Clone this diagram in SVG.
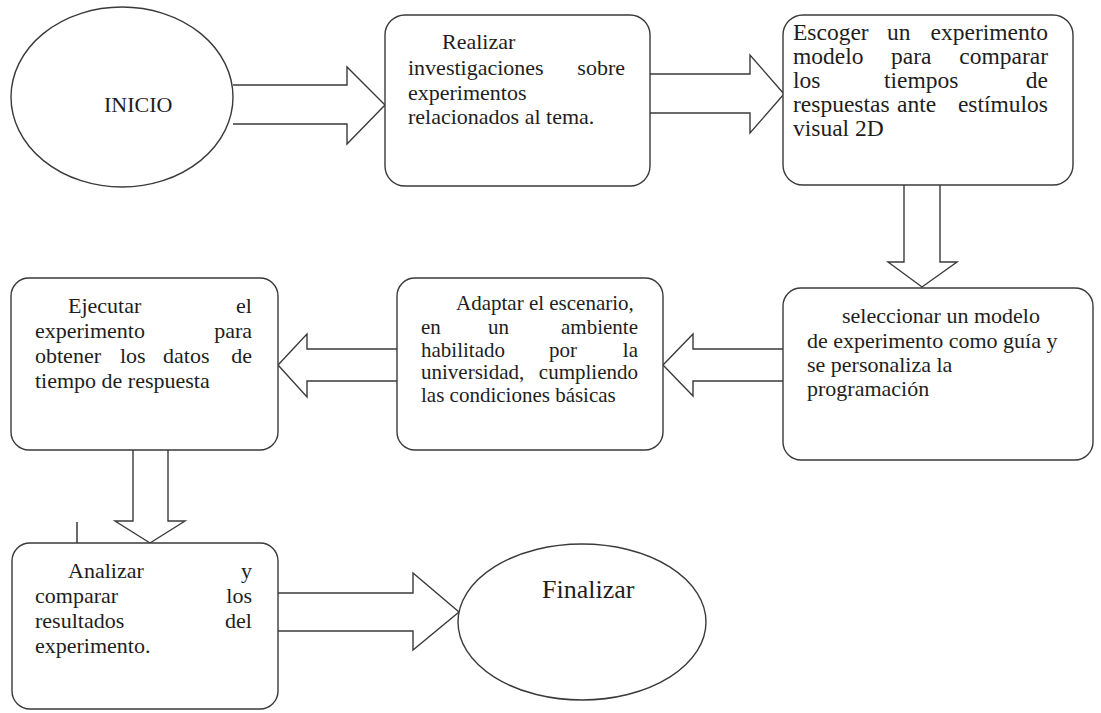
<svg xmlns="http://www.w3.org/2000/svg" width="1101" height="713" viewBox="0 0 1101 713">
  <style>
    .shape { fill: #ffffff; stroke: #3a3a3a; stroke-width: 1.4; }
    .arrow { fill: #ffffff; stroke: #3a3a3a; stroke-width: 1.4; stroke-linejoin: miter; }
    .t { fill: #1e1e1e; font-family: "Liberation Serif", "Times New Roman", Times, serif; }
  </style>

  <rect width="1101" height="713" fill="#ffffff"/>

  <!-- block arrows between steps -->
  <g id="connectors">
    <path class="arrow" d="M233,85 H347 V67 L385,105 L347,144 V124 H233"/>
    <path class="arrow" d="M650,74 H750 V55 L784,94 L750,133 V113 H650"/>
    <path class="arrow" d="M904,185 V262 H888 L922,287 L957,262 H940 V185"/>
    <path class="arrow" d="M783,349 H693 V334 L663,365 L693,396 V381 H783"/>
    <path class="arrow" d="M397,349 H307 V334 L278,365 L307,397 V381 H397"/>
    <path class="arrow" d="M133,450 V521 H115 L150,543 L185,521 H168 V450"/>
    <path class="arrow" d="M278,593 H413 V573 L459,612 L413,650 V631 H278"/>
    <line x1="77" y1="522" x2="77" y2="552" stroke="#2a2a2a" stroke-width="1.4"/>
  </g>

  <g id="inicio">
    <ellipse class="shape" cx="122" cy="97" rx="111" ry="90"/>
    <text class="t" font-family="Liberation Serif" font-size="22" x="104" y="112">INICIO</text>
  </g>

  <g id="investigar">
    <rect class="shape" x="385" y="15" width="265" height="171" rx="20" ry="20"/>
    <text class="t" font-family="Liberation Serif" font-size="22" x="442" y="49">Realizar</text>
    <text class="t" font-family="Liberation Serif" font-size="22" x="408" y="75">investigaciones</text>
    <text class="t" font-family="Liberation Serif" font-size="22" x="625" y="75" text-anchor="end">sobre</text>
    <text class="t" font-family="Liberation Serif" font-size="22" x="408" y="100">experimentos</text>
    <text class="t" font-family="Liberation Serif" font-size="22" x="408" y="124">relacionados al tema.</text>
  </g>

  <g id="escoger">
    <rect class="shape" x="783" y="15" width="290" height="170" rx="20" ry="20"/>
    <text class="t" font-family="Liberation Serif" font-size="23.5" x="793" y="40">Escoger</text>
    <text class="t" font-family="Liberation Serif" font-size="23.5" x="887" y="40">un</text>
    <text class="t" font-family="Liberation Serif" font-size="23.5" x="1048" y="40" text-anchor="end">experimento</text>
    <text class="t" font-family="Liberation Serif" font-size="23.5" x="793" y="64">modelo</text>
    <text class="t" font-family="Liberation Serif" font-size="23.5" x="891" y="64">para</text>
    <text class="t" font-family="Liberation Serif" font-size="23.5" x="1048" y="64" text-anchor="end">comparar</text>
    <text class="t" font-family="Liberation Serif" font-size="23.5" x="793" y="88">los</text>
    <text class="t" font-family="Liberation Serif" font-size="23.5" x="884" y="88">tiempos</text>
    <text class="t" font-family="Liberation Serif" font-size="23.5" x="1048" y="88" text-anchor="end">de</text>
    <text class="t" font-family="Liberation Serif" font-size="23.5" x="793" y="112">respuestas</text>
    <text class="t" font-family="Liberation Serif" font-size="23.5" x="897" y="112">ante</text>
    <text class="t" font-family="Liberation Serif" font-size="23.5" x="1048" y="112" text-anchor="end">estímulos</text>
    <text class="t" font-family="Liberation Serif" font-size="23.5" x="793" y="136">visual 2D</text>
  </g>

  <g id="seleccionar">
    <rect class="shape" x="783" y="288" width="310" height="172" rx="18" ry="18"/>
    <text class="t" font-family="Liberation Serif" font-size="22" x="842" y="323">seleccionar un modelo</text>
    <text class="t" font-family="Liberation Serif" font-size="22" x="807" y="348">de experimento como guía y</text>
    <text class="t" font-family="Liberation Serif" font-size="22" x="807" y="372">se personaliza la</text>
    <text class="t" font-family="Liberation Serif" font-size="22" x="807" y="396">programación</text>
  </g>

  <g id="adaptar">
    <rect class="shape" x="397" y="278" width="266" height="172" rx="18" ry="18"/>
    <text class="t" font-family="Liberation Serif" font-size="21" x="456" y="310">Adaptar el escenario,</text>
    <text class="t" font-family="Liberation Serif" font-size="21" x="421" y="334">en</text>
    <text class="t" font-family="Liberation Serif" font-size="21" x="488" y="334">un</text>
    <text class="t" font-family="Liberation Serif" font-size="21" x="638" y="334" text-anchor="end">ambiente</text>
    <text class="t" font-family="Liberation Serif" font-size="21" x="421" y="357">habilitado</text>
    <text class="t" font-family="Liberation Serif" font-size="21" x="549" y="357">por</text>
    <text class="t" font-family="Liberation Serif" font-size="21" x="638" y="357" text-anchor="end">la</text>
    <text class="t" font-family="Liberation Serif" font-size="21" x="421" y="379">universidad,</text>
    <text class="t" font-family="Liberation Serif" font-size="21" x="638" y="379" text-anchor="end">cumpliendo</text>
    <text class="t" font-family="Liberation Serif" font-size="21" x="421" y="402">las condiciones básicas</text>
  </g>

  <g id="ejecutar">
    <rect class="shape" x="11" y="278" width="267" height="172" rx="18" ry="18"/>
    <text class="t" font-family="Liberation Serif" font-size="22" x="68" y="313">Ejecutar</text>
    <text class="t" font-family="Liberation Serif" font-size="22" x="252" y="313" text-anchor="end">el</text>
    <text class="t" font-family="Liberation Serif" font-size="22" x="35" y="338">experimento</text>
    <text class="t" font-family="Liberation Serif" font-size="22" x="252" y="338" text-anchor="end">para</text>
    <text class="t" font-family="Liberation Serif" font-size="22" x="35" y="363">obtener</text>
    <text class="t" font-family="Liberation Serif" font-size="22" x="120" y="363">los</text>
    <text class="t" font-family="Liberation Serif" font-size="22" x="163" y="363">datos</text>
    <text class="t" font-family="Liberation Serif" font-size="22" x="252" y="363" text-anchor="end">de</text>
    <text class="t" font-family="Liberation Serif" font-size="22" x="35" y="388">tiempo de respuesta</text>
  </g>

  <g id="analizar">
    <rect class="shape" x="12" y="543" width="266" height="166" rx="18" ry="18"/>
    <text class="t" font-family="Liberation Serif" font-size="22" x="68" y="578">Analizar</text>
    <text class="t" font-family="Liberation Serif" font-size="22" x="252" y="578" text-anchor="end">y</text>
    <text class="t" font-family="Liberation Serif" font-size="22" x="35" y="603">comparar</text>
    <text class="t" font-family="Liberation Serif" font-size="22" x="252" y="603" text-anchor="end">los</text>
    <text class="t" font-family="Liberation Serif" font-size="22" x="35" y="628">resultados</text>
    <text class="t" font-family="Liberation Serif" font-size="22" x="252" y="628" text-anchor="end">del</text>
    <text class="t" font-family="Liberation Serif" font-size="22" x="35" y="653">experimento.</text>
  </g>

  <g id="finalizar">
    <ellipse class="shape" cx="582" cy="622" rx="124" ry="78"/>
    <text class="t" font-family="Liberation Serif" font-size="26" x="542" y="598">Finalizar</text>
  </g>
</svg>
